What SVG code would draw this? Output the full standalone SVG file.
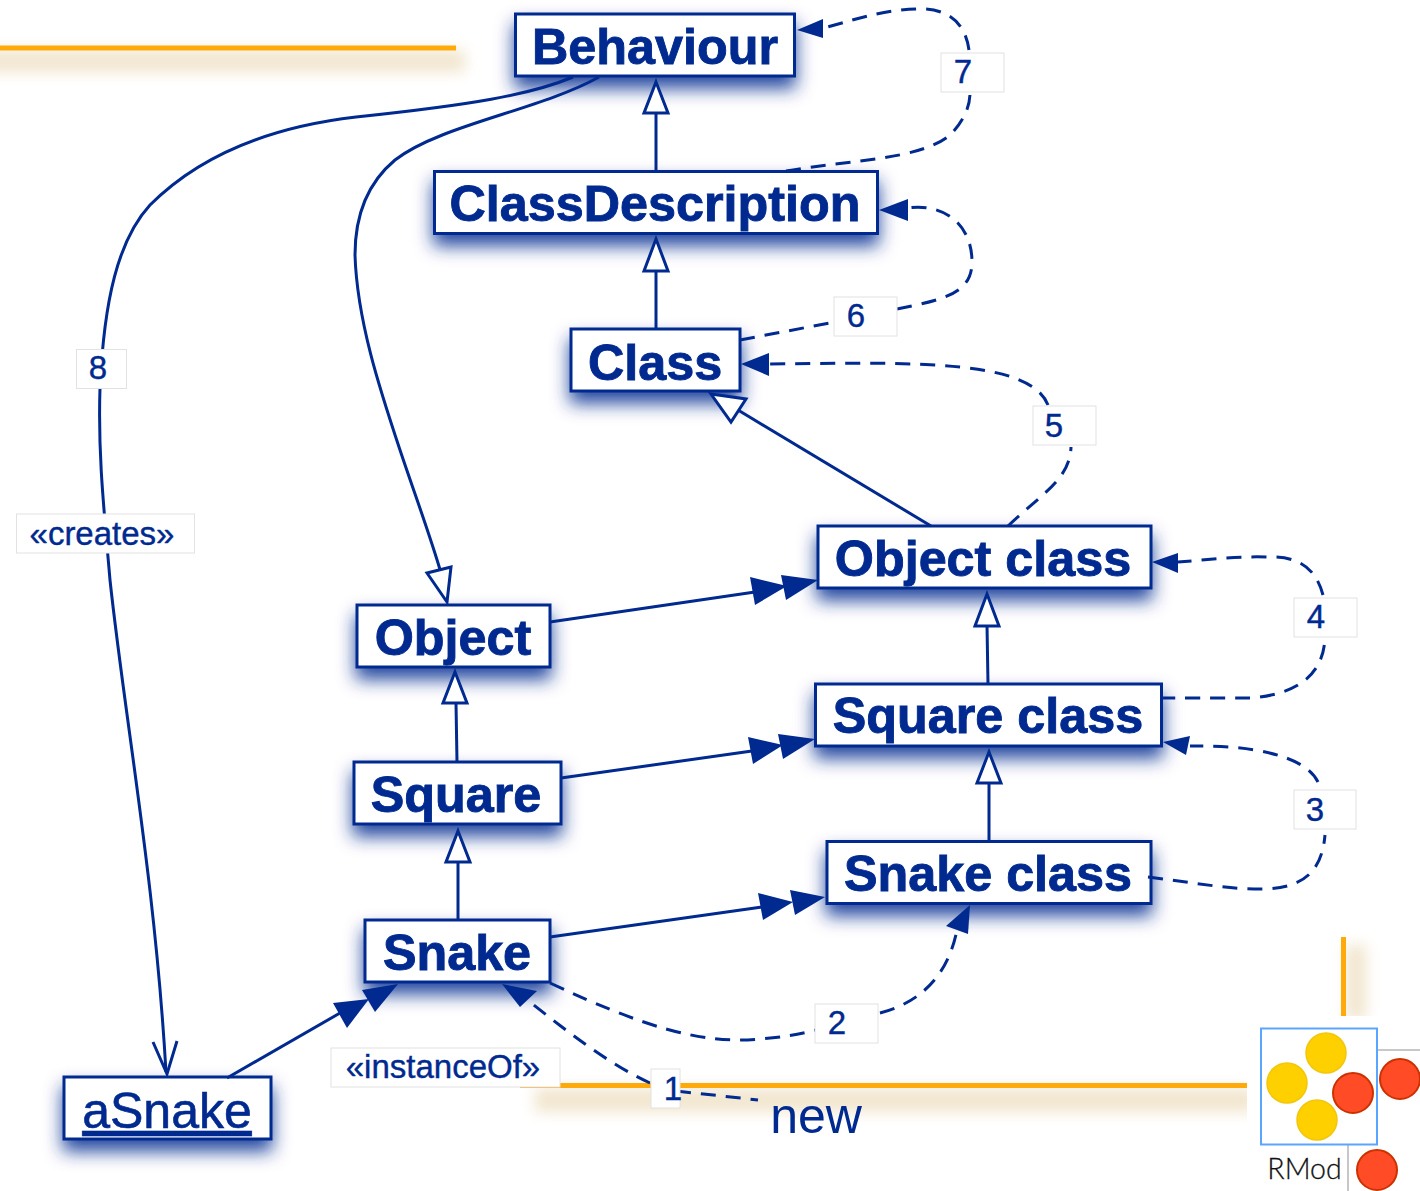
<svg xmlns="http://www.w3.org/2000/svg" width="1420" height="1191" viewBox="0 0 1420 1191">
<style>
.n{fill:#fff;stroke:#002a8f;stroke-width:3;filter:url(#sh)}
.t{font-family:"Liberation Sans",Arial,sans-serif;font-weight:700;font-size:50.300px;fill:#002a8f;text-anchor:middle;stroke:#002a8f;stroke-width:.9}
.l{fill:#fff;stroke:#e2e2e2;stroke-width:1}
.lt{font-family:"Liberation Sans",Arial,sans-serif;font-size:33px;fill:#002a8f;text-anchor:middle;stroke:#002a8f;stroke-width:.4}
.c{fill:none;stroke:#002a8f;stroke-width:3}
.d{stroke-dasharray:15 10}
.f{fill:#002a8f;stroke:none}
.h{fill:#fff;stroke:#002a8f;stroke-width:3}
.o{fill:#ffa90a}
.s{fill:#f2e6cf;filter:url(#bl)}
.y{fill:#ffd000;stroke:#f2c60c;stroke-width:1.500}
.r{fill:#ff4b26;stroke:#cc3200;stroke-width:2}
</style>
<defs>
<filter id="sh" x="-20%" y="-40%" width="140%" height="210%"><feDropShadow dx="0" dy="11" stdDeviation="9" flood-color="#002a8f" flood-opacity=".85"/></filter>
<filter id="bl" x="-10%" y="-200%" width="120%" height="500%"><feGaussianBlur stdDeviation="7"/></filter>
<filter id="bl2" x="-200%" y="-20%" width="500%" height="140%"><feGaussianBlur stdDeviation="7"/></filter>
</defs>
<g id="decoration">
<rect class="s" x="-30" y="50" width="495" height="22"/>
<rect class="o" x="0" y="45.500" width="456" height="5"/>
<rect class="s" x="535" y="1088" width="720" height="24"/>
<rect class="o" x="520" y="1083" width="727" height="5"/>
<rect class="s" style="filter:url(#bl2)" x="1346" y="945" width="20" height="75"/>
<rect x="1330" y="1016" width="60" height="20" fill="#fff"/>
<rect x="1247" y="1060" width="14" height="70" fill="#fff"/>
<rect class="o" x="1341" y="937" width="5" height="79"/>
<path d="M1377 1050H1420M1348 1145V1191" stroke="#c8c8c8" stroke-width="2" fill="none"/>
</g>
<g id="nodes">
<g id="behaviour"><rect class="n" x="515.500" y="14" width="279" height="62"/><text class="t" x="655" y="64">Behaviour</text></g>
<g id="classdescription"><rect class="n" x="434.500" y="171.500" width="443" height="62"/><text class="t" x="655" y="221">ClassDescription</text></g>
<g id="class"><rect class="n" x="571" y="329" width="169" height="62"/><text class="t" x="655" y="380">Class</text></g>
<g id="objectclass"><rect class="n" x="818" y="526" width="333" height="62"/><text class="t" x="983" y="576">Object class</text></g>
<g id="squareclass"><rect class="n" x="815.500" y="684" width="346" height="62"/><text class="t" x="988" y="733">Square class</text></g>
<g id="snakeclass"><rect class="n" x="827" y="841.500" width="324" height="62"/><text class="t" x="988" y="891">Snake class</text></g>
<g id="object"><rect class="n" x="357" y="605" width="193" height="62"/><text class="t" x="453" y="655">Object</text></g>
<g id="square"><rect class="n" x="354" y="762" width="207" height="62"/><text class="t" x="456" y="812">Square</text></g>
<g id="snake"><rect class="n" x="365" y="920" width="185" height="62"/><text class="t" x="457" y="970">Snake</text></g>
<g id="asnake"><rect class="n" x="64" y="1077" width="207" height="62"/><text class="t" x="167" y="1128" style="font-weight:400;font-size:50px;stroke-width:.6;text-decoration:underline">aSnake</text></g>
</g>
<g id="connectors">
<path class="c" d="M656 171V113"/><path class="h" d="M656 82L668 113H644Z"/>
<path class="c" d="M656 329V271"/><path class="h" d="M656 239L668 271H644Z"/>
<path class="c" d="M931 526L738 410"/><path class="h" d="M711 394L746 399L731 422Z"/>
<path class="c" d="M988 684L987 625"/><path class="h" d="M987 594L999 626H975Z"/>
<path class="c" d="M989 841V783"/><path class="h" d="M989 752L1001 783H977Z"/>
<path class="c" d="M457 762L456 703"/><path class="h" d="M455 672L467 703H443Z"/>
<path class="c" d="M458 920V862"/><path class="h" d="M458 831L470 862H446Z"/>
<path class="c" d="M599 77C540 110 440 125 395 160C365 185 355 220 355 255C357 320 380 390 400 450C415 495 430 535 441 573"/><path class="h" d="M447 602L427 573L451 567Z"/>
<path class="c" d="M573 77C530 95 470 105 356 117C270 127 200 155 150 205C118 240 104 300 100 388C98 450 103 500 110 580C125 720 155 880 166 1072"/>
<path class="c" d="M153 1042L167 1074L177 1041"/>
<path class="c" d="M550 622L755 592"/><path class="f" d="M787 586L755 605L750 577Z"/><path class="f" d="M818 580L786 600L781 575Z"/>
<path class="c" d="M561 778L752 751"/><path class="f" d="M783 745L753 764L748 737Z"/><path class="f" d="M815 739L783 759L778 734Z"/>
<path class="c" d="M550 937L762 907"/><path class="f" d="M793 902L763 920L758 893Z"/><path class="f" d="M825 897L795 915L790 890Z"/>
<path class="c" d="M227 1078L340 1013"/><path class="f" d="M369 999L347 1028L333 1003Z"/><path class="f" d="M398 984L375 1012L362 990Z"/>
<path class="c d" d="M676 1091L758 1100M650 1083C610 1065 565 1030 525 998"/><path class="f" d="M502 984L537 991L520 1007Z"/>
<path class="c d" d="M550 983C640 1025 700 1045 760 1039C785 1037 800 1034 816 1030M880 1013C930 1000 950 965 957 930"/><path class="f" d="M970 905L968 934L946 926Z"/>
<path class="c d" d="M1148 877C1190 882 1230 890 1267 889C1305 887 1322 870 1325 835M1318 782C1305 755 1250 745 1190 746"/><path class="f" d="M1163 742L1190 736L1186 755Z"/>
<path class="c d" d="M1160 698C1195 698 1225 698 1250 698C1290 695 1323 680 1325 638M1323 595C1315 565 1295 556 1267 557C1235 556 1205 560 1178 562"/><path class="f" d="M1152 562L1178 553V573Z"/>
<path class="c d" d="M1008 526C1040 495 1070 480 1071 447M1048 405C1030 360 920 362 770 364"/><path class="f" d="M741 364L769 353V376Z"/>
<path class="c d" d="M740 340L835 322M897 309C940 300 972 295 972 262C972 225 945 203 908 208"/><path class="f" d="M879 210L908 199L908 221Z"/>
<path class="c d" d="M786 171C850 160 920 160 950 135C965 120 970 105 970 93M969 50C965 20 945 10 925 9C890 8 860 18 824 28"/><path class="f" d="M797 30L823 19V38Z"/>
</g>
<g id="labels">
<g><rect class="l" x="76.500" y="349.500" width="50" height="39"/><text class="lt" x="98" y="379">8</text></g>
<g><rect class="l" x="16.500" y="514" width="178" height="39"/><text class="lt" x="102" y="545">«creates»</text></g>
<g><rect class="l" x="941" y="53" width="63" height="39"/><text class="lt" x="963" y="83">7</text></g>
<g><rect class="l" x="834" y="297" width="63" height="39"/><text class="lt" x="856" y="327">6</text></g>
<g><rect class="l" x="1033" y="406" width="63" height="39"/><text class="lt" x="1054" y="437">5</text></g>
<g><rect class="l" x="1294" y="598" width="63" height="39"/><text class="lt" x="1316" y="628">4</text></g>
<g><rect class="l" x="1294" y="790" width="62" height="39"/><text class="lt" x="1315" y="821">3</text></g>
<g><rect class="l" x="815" y="1004" width="63" height="39"/><text class="lt" x="837" y="1034">2</text></g>
<g><rect class="l" x="651" y="1069" width="29" height="39"/><text class="lt" x="673" y="1100">1</text></g>
<g><rect class="l" x="331" y="1048" width="229" height="39"/><text class="lt" x="443" y="1078">«instanceOf»</text></g>
<text x="816" y="1133" style="font-family:'Liberation Sans',Arial,sans-serif;font-size:50px;fill:#002a8f;text-anchor:middle">new</text>
</g>
<g id="logo">
<rect x="1261" y="1028.500" width="116" height="116" fill="#fff" stroke="#5aa5ff" stroke-width="2"/>
<circle class="y" cx="1326" cy="1053" r="20"/>
<circle class="y" cx="1287" cy="1083" r="20"/>
<circle class="y" cx="1317" cy="1120" r="20"/>
<circle class="r" cx="1353" cy="1093" r="20"/>
<circle class="r" cx="1400" cy="1079" r="20"/>
<circle class="r" cx="1377" cy="1170" r="20"/>
<text x="1304.500" y="1179" style="font-family:Lato,sans-serif;font-weight:300;font-size:28.500px;fill:#111;stroke:#111;stroke-width:.3;text-anchor:middle">RMod</text>
</g>
</svg>
